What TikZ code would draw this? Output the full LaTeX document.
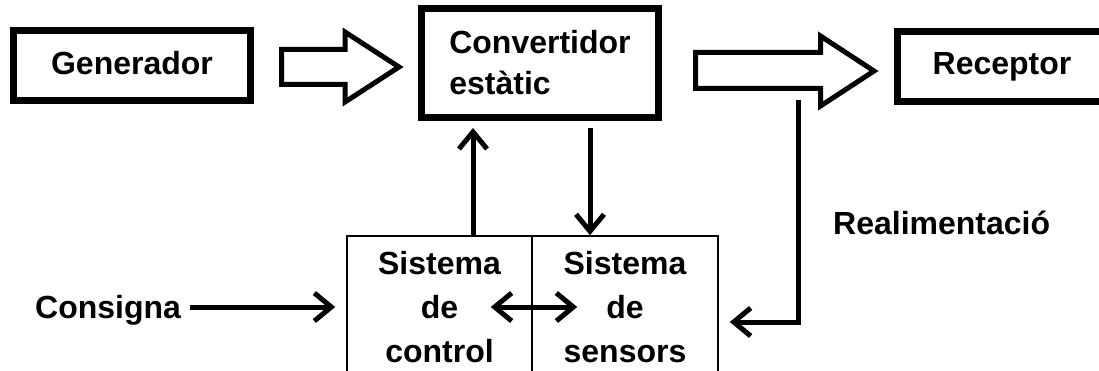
\documentclass[tikz,border=0pt]{standalone}
\usepackage{fontspec}
\setmainfont{Liberation Sans}
\usetikzlibrary{arrows.meta,calc}
\begin{document}
\begin{tikzpicture}[x=1pt,y=-1pt,
  txt/.style={font=\fontsize{32}{41}\selectfont\bfseries},
  thickbox/.style={draw, line width=7pt, inner sep=0pt, txt},
  thinbox/.style={draw, line width=1.5pt, inner sep=0pt, txt, align=center,
    font=\fontsize{32}{44}\selectfont\bfseries},
  tipb/.tip={Straight Barb[length=17pt,width=28pt]},
  arr/.style={line width=5pt, -tipb},
  hollow/.style={draw, line width=5pt, line join=miter, fill=white}]
\useasboundingbox[fill=white] (0,0) rectangle (1099,371);
% top row
\node[thickbox, minimum width=237pt, minimum height=70pt, text depth=6pt] (gen) at (132,65.5) {Generador};
\node[thickbox, minimum width=237pt, minimum height=109pt, align=left] (conv) at (540,63) {Convertidor\\est\`atic};
\node[thickbox, minimum width=210pt, minimum height=70pt] (rec) at (1002,67) {Receptor};
% hollow arrows
\draw[hollow] (281.5,49.5) -- (345,49.5) -- (345,32) -- (399,67) -- (345,102) -- (345,84.5) -- (281.5,84.5) -- cycle;
\draw[hollow] (695.5,52.5) -- (820.5,52.5) -- (820.5,36) -- (874,71) -- (820.5,106) -- (820.5,88.5) -- (695.5,88.5) -- cycle;
% bottom blocks
\node[thinbox, minimum width=185pt, minimum height=142pt] (ctrl) at (439.5,307) {Sistema\\de\\control};
\node[thinbox, minimum width=186pt, minimum height=142pt] (sens) at (625,307) {Sistema\\de\\sensors};
% labels
\node[txt, anchor=base west, inner sep=0pt] (cons) at (35,318) {Consigna};
\node[txt, anchor=base west, inner sep=0pt] (real) at (833,235) {Realimentaci\'o};
% helper coordinates
\coordinate (upx) at (473,0);
\coordinate (dnx) at (590,0);
\coordinate (fb) at (798,100);
% connectors
\draw[arr, shorten >=7pt] (upx |- ctrl.north) -- (upx |- conv.south);
\draw[arr, shorten <=7pt] (dnx |- conv.south) -- (dnx |- sens.north);
\draw[line width=5pt, tipb-tipb] ([xshift=-42pt]ctrl.east) -- ([xshift=46pt]sens.west);
\draw[arr, shorten >=11pt] ([xshift=9pt]cons.east |- ctrl.west) -- (ctrl.west);
\draw[arr, shorten >=11pt] (fb) |- ([yshift=-15pt]sens.east);
\end{tikzpicture}
\end{document}
